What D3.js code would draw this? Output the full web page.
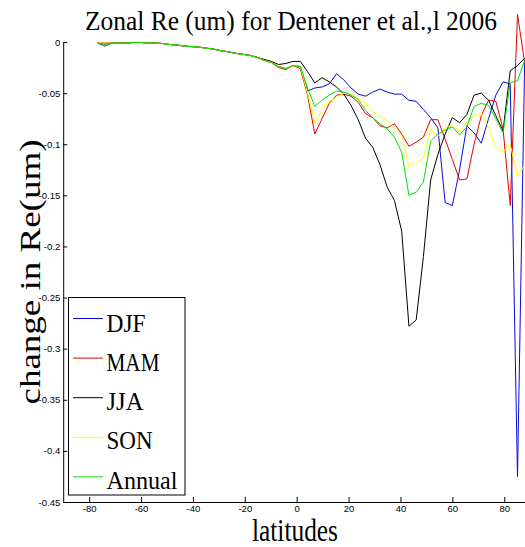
<!DOCTYPE html>
<html>
<head>
<meta charset="utf-8">
<script src="https://cdn.jsdelivr.net/npm/d3@7"></script>
<style>
  body { margin: 0; background: #fff; }
  svg { display: block; }
</style>
</head>
<body>
<svg id="vis-canvas" width="525" height="547"></svg>
<script>
// gaussian grid latitudes (T42-ish), only where there is data
const lats = [-76.74,-73.95,-71.16,-68.37,-65.58,-62.79,-60.00,-57.21,-54.42,-51.63,
  -48.84,-46.05,-43.26,-40.47,-37.67,-34.88,-32.09,-29.30,-26.51,-23.72,
  -20.93,-18.14,-15.35,-12.56,-9.77,-6.98,-4.19,-1.40,
  1.40,4.19,6.98,9.77,12.56,15.35,18.14,20.93,23.72,26.51,
  29.30,32.09,34.88,37.67,40.47,43.26,46.05,48.84,51.63,54.42,
  57.21,60.00,62.79,65.58,68.37,71.16,73.95,76.74,79.53,82.31,85.10,87.86];

const djf = [-0.001,-0.004,-0.001,-0.001,-0.001,-0.0005,-0.0005,-0.001,-0.001,-0.0015,
  -0.0025,-0.003,-0.004,-0.0045,-0.005,-0.006,-0.007,-0.0085,-0.0095,-0.011,
  -0.012,-0.013,-0.015,-0.018,-0.020,-0.024,-0.026,-0.023,
  -0.024,-0.048,-0.045,-0.044,-0.041,-0.031,-0.037,-0.045,-0.051,-0.053,
  -0.049,-0.046,-0.049,-0.051,-0.051,-0.057,-0.058,-0.066,-0.074,-0.084,
  -0.157,-0.160,-0.125,-0.082,-0.089,-0.099,-0.075,-0.052,-0.039,-0.041,-0.425,-0.020];

const mam = [-0.001,-0.001,-0.001,-0.001,-0.001,-0.0005,-0.0005,-0.001,-0.001,-0.0015,
  -0.0025,-0.003,-0.004,-0.0045,-0.005,-0.006,-0.007,-0.0085,-0.0095,-0.011,
  -0.012,-0.013,-0.015,-0.018,-0.020,-0.025,-0.027,-0.023,
  -0.026,-0.052,-0.090,-0.075,-0.060,-0.052,-0.051,-0.053,-0.059,-0.070,
  -0.074,-0.082,-0.084,-0.080,-0.090,-0.102,-0.098,-0.093,-0.076,-0.076,
  -0.095,-0.115,-0.135,-0.134,-0.100,-0.072,-0.057,-0.058,-0.085,-0.160,0.027,-0.020];

const jja = [-0.001,-0.002,-0.001,-0.001,-0.001,-0.0005,-0.0005,-0.001,-0.001,-0.0015,
  -0.0025,-0.003,-0.004,-0.0045,-0.005,-0.006,-0.007,-0.0085,-0.0095,-0.011,
  -0.012,-0.013,-0.015,-0.017,-0.019,-0.022,-0.021,-0.019,
  -0.019,-0.029,-0.040,-0.035,-0.039,-0.044,-0.051,-0.062,-0.076,-0.094,
  -0.103,-0.120,-0.142,-0.155,-0.185,-0.278,-0.272,-0.210,-0.135,-0.110,
  -0.090,-0.074,-0.079,-0.071,-0.052,-0.050,-0.057,-0.072,-0.087,-0.028,-0.023,-0.016];

const son = [-0.001,-0.001,-0.001,-0.001,-0.001,-0.0005,-0.0005,-0.001,-0.001,-0.0015,
  -0.0025,-0.003,-0.004,-0.0045,-0.005,-0.006,-0.007,-0.0085,-0.0095,-0.011,
  -0.012,-0.013,-0.015,-0.018,-0.020,-0.024,-0.026,-0.023,
  -0.024,-0.050,-0.079,-0.066,-0.058,-0.054,-0.050,-0.051,-0.055,-0.060,
  -0.068,-0.073,-0.077,-0.084,-0.091,-0.122,-0.118,-0.114,-0.085,-0.092,
  -0.084,-0.081,-0.088,-0.078,-0.072,-0.070,-0.083,-0.103,-0.108,-0.100,-0.132,-0.120];

const annual = [-0.001,-0.004,-0.001,-0.001,-0.001,-0.0005,-0.0005,-0.001,-0.001,-0.0015,
  -0.0025,-0.003,-0.004,-0.0045,-0.005,-0.006,-0.007,-0.0085,-0.0095,-0.011,
  -0.012,-0.013,-0.015,-0.018,-0.020,-0.024,-0.026,-0.023,
  -0.024,-0.045,-0.063,-0.057,-0.052,-0.048,-0.049,-0.052,-0.056,-0.067,
  -0.074,-0.080,-0.085,-0.093,-0.108,-0.150,-0.147,-0.137,-0.097,-0.090,
  -0.086,-0.083,-0.091,-0.083,-0.063,-0.060,-0.062,-0.075,-0.089,-0.040,-0.038,-0.018];

const seriesNames = ["DJF", "MAM", "JJA", "SON", "Annual"];
const seriesColors = ["#0a0ad8", "#e80000", "#000000", "#ffff00", "#00e000"];
const xTicks = [-80, -60, -40, -20, 0, 20, 40, 60, 80];
const yTicks = [0, -0.05, -0.1, -0.15, -0.2, -0.25, -0.3, -0.35, -0.4, -0.45];

const allSeries = [djf, mam, jja, son, annual];

let svg = d3.select("#vis-canvas");

let scaleX = d3.scaleLinear().domain([-90, 90]).range([63.2, 530.2]);
let scaleY = d3.scaleLinear().domain([-0.45, 0]).range([502, 42]);

// axes (matlab style: ticks inside, no box)
let xaxis = svg.append("g")
  .attr("transform", "translate(0," + scaleY(-0.45) + ")")
  .call(d3.axisBottom(scaleX)
          .tickValues(xTicks)
          .tickSizeInner(-5)
          .tickSizeOuter(0)
          .tickPadding(3)
          .tickFormat(d => String(d)));

let yaxis = svg.append("g")
  .attr("transform", "translate(" + scaleX(-90) + ",0)")
  .call(d3.axisLeft(scaleY)
          .tickValues(yTicks)
          .tickSizeInner(-4)
          .tickSizeOuter(0)
          .tickPadding(3)
          .tickFormat(d => String(+d.toFixed(2))));

svg.selectAll(".tick text")
  .attr("font-family", "'Liberation Sans', Arial, sans-serif")
  .attr("font-size", 9.5)
  .attr("fill", "#000");
svg.selectAll(".domain, .tick line").attr("stroke", "#000");

// data lines
let line = d3.line()
  .x((d, i) => scaleX(lats[i]))
  .y(d => scaleY(d));

svg.selectAll("path.series")
  .data(allSeries)
  .enter()
  .append("path")
  .attr("class", "series")
  .attr("d", d => line(d))
  .attr("fill", "none")
  .attr("stroke", (d, i) => seriesColors[i])
  .attr("stroke-width", 1);

// title + axis labels
const serif = "'Liberation Serif', 'Times New Roman', serif";
svg.append("text")
  .attr("x", 85).attr("y", 30)
  .attr("font-family", serif)
  .attr("font-size", 27)
  .attr("textLength", 412)
  .attr("lengthAdjust", "spacingAndGlyphs")
  .text("Zonal Re (um) for Dentener et al.,l 2006");

svg.append("text")
  .attr("x", 252).attr("y", 541)
  .attr("font-family", serif)
  .attr("font-size", 31)
  .attr("textLength", 86)
  .attr("lengthAdjust", "spacingAndGlyphs")
  .text("latitudes");

svg.append("text")
  .attr("transform", "translate(40,272) rotate(-90)")
  .attr("text-anchor", "middle")
  .attr("font-family", serif)
  .attr("font-size", 29)
  .attr("textLength", 265)
  .attr("lengthAdjust", "spacingAndGlyphs")
  .text("change in Re(um)");

// Legend
let legend = svg.append("g");
legend.append("rect")
  .attr("x", 68.5).attr("y", 297.5)
  .attr("width", 116.5).attr("height", 197.5)
  .attr("fill", "#fff")
  .attr("stroke", "#000")
  .attr("stroke-width", 1);

const legWidths = [39, 53, 37, 46, 71];
legend.selectAll("line")
  .data(seriesNames)
  .enter()
  .append("line")
  .attr("x1", 73).attr("x2", 103)
  .attr("y1", (d, i) => 318.5 + i * 39.6)
  .attr("y2", (d, i) => 318.5 + i * 39.6)
  .attr("stroke", (d, i) => seriesColors[i])
  .attr("stroke-width", 1);

legend.selectAll("text")
  .data(seriesNames)
  .enter()
  .append("text")
  .attr("x", 106.5)
  .attr("y", (d, i) => 331.5 + i * 39.3)
  .attr("font-family", serif)
  .attr("font-size", 26)
  .attr("textLength", (d, i) => legWidths[i])
  .attr("lengthAdjust", "spacingAndGlyphs")
  .text(d => d);
</script>
</body>
</html>
